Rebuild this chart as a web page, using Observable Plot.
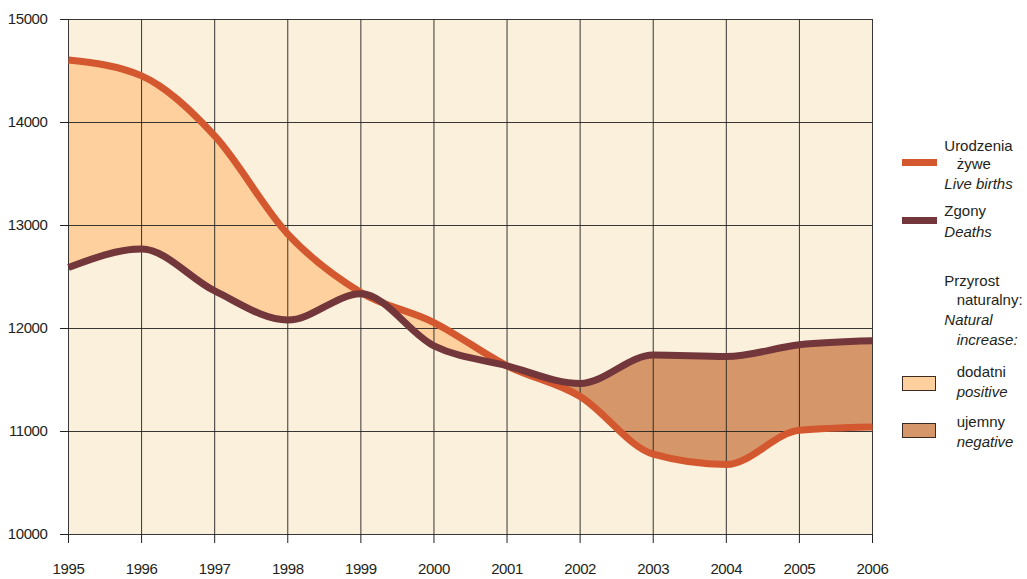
<!DOCTYPE html>
<html>
<head>
<meta charset="utf-8">
<script src="https://cdn.jsdelivr.net/npm/d3@7"></script>
<script src="https://cdn.jsdelivr.net/npm/@observablehq/plot@0.6"></script>
<style>
  html, body { margin: 0; padding: 0; background: #ffffff; }
  #wrap { position: relative; width: 1027px; height: 579px; font-family: "Liberation Sans", Arial, sans-serif; color: #231f20; }
  .lg { position: absolute; font-size: 15px; line-height: 15px; white-space: nowrap; }
  .it { font-style: italic; }
  .sw { position: absolute; }
  #wrap svg text { letter-spacing: -0.4px; }
</style>
</head>
<body>
<div id="wrap"></div>
<script>
// ---- data ----
const years  = [1995, 1996, 1997, 1998, 1999, 2000, 2001, 2002, 2003, 2004, 2005, 2006];
const births = [14606, 14453, 13870, 12917, 12350, 12058, 11638, 11340, 10780, 10680, 11012, 11044];
const deaths = [12592, 12771, 12365, 12082, 12337, 11832, 11638, 11466, 11742, 11728, 11842, 11880];
const yTicks = [10000, 11000, 12000, 13000, 14000, 15000];
const xTicks = years;

const legendLines = [
  ["Urodzenia", 944.3, 150.7, false],
  ["żywe", 956.7, 168.3, false],
  ["Live births", 944.3, 188.3, true],
  ["Zgony", 944.3, 216, false],
  ["Deaths", 944.3, 236.7, true],
  ["Przyrost", 944.3, 285.7, false],
  ["naturalny:", 956.7, 304.3, false],
  ["Natural", 944.3, 325, true],
  ["increase:", 956.7, 345, true],
  ["dodatni", 956.7, 376.7, false],
  ["positive", 956.7, 396.7, true],
  ["ujemny", 956.7, 426.7, false],
  ["negative", 956.7, 446.7, true]
];

const C = {
  bg: "#faf0dc",
  pos: "#fdd09e",
  neg: "#d59669",
  births: "#d4582f",
  deaths: "#72363b",
  grid: "#222222",
  text: "#231f20"
};

const data = years.map((y, i) => ({year: y, births: births[i], deaths: deaths[i]}));
const curve = "monotone-x";

const plot = Plot.plot({
  width: 1027,
  height: 579,
  marginLeft: 68,
  marginRight: 155,
  marginTop: 19,
  marginBottom: 45,
  style: {background: "#ffffff", fontFamily: "'Liberation Sans', Arial, sans-serif", fontSize: "15px", color: C.text},
  x: {domain: [1995, 2006], label: null},
  y: {domain: [10000, 15000], label: null},
  marks: [
    Plot.frame({fill: C.bg, stroke: null}),
    Plot.areaY(data, {x: "year", y1: "deaths", y2: "births", curve, fill: C.pos}),
    Plot.areaY(data, {x: "year", y1: "deaths", y2: "births", curve, fill: C.neg}),
    Plot.areaY(data, {x: "year", y1: 10000, y2: "births", curve, fill: "#000000"}),
    Plot.areaY(data, {x: "year", y1: "births", y2: 15000, curve, fill: "#000000"}),
    Plot.ruleX(xTicks, {stroke: C.grid, strokeWidth: 1, strokeOpacity: 0.9}),
    Plot.ruleY(yTicks, {stroke: C.grid, strokeWidth: 1, strokeOpacity: 0.9}),
    Plot.lineY(data, {x: "year", y: "births", curve, stroke: C.births, strokeWidth: 7, strokeLinecap: "butt"}),
    Plot.lineY(data, {x: "year", y: "deaths", curve, stroke: C.deaths, strokeWidth: 7, strokeLinecap: "butt"}),
    Plot.axisX({ticks: xTicks, tickFormat: "d", tickSize: 9, tickPadding: 20, stroke: C.grid, label: null}),
    Plot.axisY({ticks: yTicks, tickFormat: "d", tickSize: 8, tickPadding: 13, stroke: C.grid, label: null})
  ]
});

// Clip the positive/negative fills to below/above the births curve (difference chart)
(function () {
  const ns = "http://www.w3.org/2000/svg";
  const svg = plot.tagName.toLowerCase() === "svg" ? plot : plot.querySelector("svg");
  const areas = Array.from(svg.querySelectorAll('g[aria-label="area"]'));
  if (areas.length < 4) return;
  const [posG, negG, belowG, aboveG] = areas;
  const defs = document.createElementNS(ns, "defs");
  svg.insertBefore(defs, svg.firstChild);
  function makeClip(g, id) {
    const p = g.querySelector("path");
    const cp = document.createElementNS(ns, "clipPath");
    cp.setAttribute("id", id);
    const np = document.createElementNS(ns, "path");
    np.setAttribute("d", p.getAttribute("d"));
    if (g.getAttribute("transform")) np.setAttribute("transform", g.getAttribute("transform"));
    cp.appendChild(np);
    defs.appendChild(cp);
    g.remove();
  }
  makeClip(belowG, "clipBelow");
  makeClip(aboveG, "clipAbove");
  posG.setAttribute("clip-path", "url(#clipBelow)");
  negG.setAttribute("clip-path", "url(#clipAbove)");
})();

const wrap = document.getElementById("wrap");
wrap.appendChild(plot);

// legend (HTML)
function addSwatch(x, y, w, h, bg, border) {
  const d = document.createElement("div");
  d.className = "sw";
  d.style.left = x + "px"; d.style.top = y + "px";
  d.style.width = w + "px"; d.style.height = h + "px";
  d.style.background = bg;
  if (border) { d.style.boxSizing = "border-box"; d.style.border = "1px solid " + border; }
  wrap.appendChild(d);
}
addSwatch(902, 158.5, 35, 7, C.births);
addSwatch(902, 216.7, 35, 7, C.deaths);
addSwatch(902, 375.5, 34, 15, C.pos, "#3a2a22");
addSwatch(902, 423, 34, 15, C.neg, "#3a2a22");
for (const [t, x, base, it] of legendLines) {
  const d = document.createElement("div");
  d.className = "lg" + (it ? " it" : "");
  d.textContent = t;
  d.style.left = x + "px";
  d.style.top = (base - 12.7) + "px";
  wrap.appendChild(d);
}
</script>
</body>
</html>
